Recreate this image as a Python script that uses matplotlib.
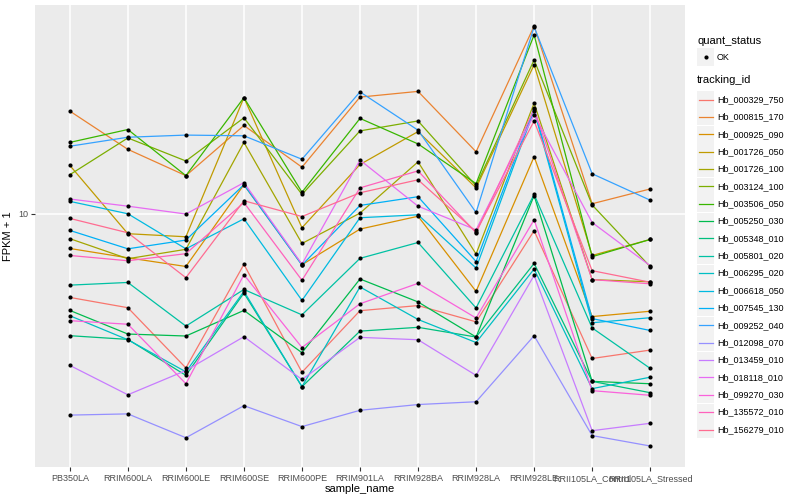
import matplotlib
matplotlib.use("Agg")
import matplotlib.pyplot as plt
from matplotlib.lines import Line2D
from matplotlib.patches import Rectangle
import numpy as np

plt.rcParams['font.family'] = ['Liberation Sans', 'DejaVu Sans']

samples = ["PB350LA", "RRIM600LA", "RRIM600LE", "RRIM600SE", "RRIM600PE", "RRIM901LA",
           "RRIM928BA", "RRIM928LA", "RRIM928LE", "RRII105LA_Control", "RRII105LA_Stressed"]

tracking_ids = ["Hb_000329_750", "Hb_000815_170", "Hb_000925_090", "Hb_001726_050",
                "Hb_001726_100", "Hb_003124_100", "Hb_003506_050", "Hb_005250_030",
                "Hb_005348_010", "Hb_005801_020", "Hb_006295_020", "Hb_006618_050",
                "Hb_007545_130", "Hb_009252_040", "Hb_012098_070", "Hb_013459_010",
                "Hb_018118_010", "Hb_099270_030", "Hb_135572_010", "Hb_156279_010"]

# ggplot default hue palette for 20 levels
colors = ["#F8766D", "#EA8331", "#D89000", "#C09B00", "#A3A500", "#7CAE00", "#39B600",
          "#00BB4E", "#00BF7D", "#00C1A3", "#00BFC4", "#00BAE0", "#00B0F6", "#35A2FF",
          "#9590FF", "#C77CFF", "#E76BF3", "#FA62DB", "#FF62BC", "#FF6C91"]

# FPKM values per gene, one value per sample
fpkm_000329_750 = [4.26, 3.86, 2.06, 5.78, 1.96, 3.75, 3.94, 3.36, 7.78, 2.29, 2.51]
fpkm_000815_170 = [21.0, 15.4, 12.4, 18.7, 13.3, 23.5, 24.6, 15.1, 41.3, 9.8, 11.1]
fpkm_000925_090 = [6.66, 6.13, 5.67, 11.5, 5.76, 7.89, 8.81, 4.51, 14.5, 3.54, 3.73]
fpkm_001726_050 = [13.5, 7.58, 7.38, 23.4, 7.98, 13.6, 17.8, 11.2, 30.4, 6.26, 7.21]
fpkm_001726_100 = [7.26, 6.08, 6.61, 16.3, 6.96, 9.05, 13.9, 6.34, 22.4, 5.03, 4.93]
fpkm_003124_100 = [12.5, 16.9, 14.0, 19.9, 10.6, 17.9, 19.4, 11.4, 31.6, 9.7, 5.66]
fpkm_003506_050 = [16.3, 18.1, 12.4, 23.4, 10.8, 19.8, 16.1, 11.6, 38.5, 6.19, 7.21]
fpkm_005250_030 = [3.76, 2.97, 2.91, 3.76, 2.44, 5.06, 4.08, 2.88, 10.5, 1.76, 1.71]
fpkm_005348_010 = [2.92, 2.81, 1.89, 4.44, 1.65, 3.06, 3.18, 2.88, 5.83, 1.76, 1.53]
fpkm_005801_020 = [4.78, 4.90, 3.22, 4.59, 3.60, 6.10, 7.02, 3.85, 10.6, 3.16, 2.05]
fpkm_006295_020 = [3.57, 2.80, 1.97, 4.51, 1.65, 4.70, 3.44, 2.72, 5.54, 1.61, 1.85]
fpkm_006618_050 = [10.0, 9.0, 6.64, 8.62, 4.14, 8.70, 8.92, 5.59, 21.1, 3.33, 3.50]
fpkm_007545_130 = [7.80, 6.64, 7.17, 11.5, 5.74, 9.66, 10.4, 5.93, 21.5, 3.47, 3.08]
fpkm_009252_040 = [15.8, 17.0, 17.3, 17.2, 14.2, 24.5, 18.0, 9.1, 41.0, 12.6, 10.1]
fpkm_012098_070 = [1.13, 1.15, 0.79, 1.29, 0.95, 1.21, 1.31, 1.36, 2.92, 0.82, 0.68]
fpkm_013459_010 = [2.12, 1.49, 2.00, 2.89, 1.80, 2.87, 2.80, 1.89, 5.23, 0.89, 1.00]
fpkm_018118_010 = [10.2, 9.6, 8.98, 11.7, 5.79, 14.1, 9.6, 7.84, 20.4, 8.35, 5.71]
fpkm_099270_030 = [3.40, 3.28, 1.71, 5.26, 2.58, 4.01, 4.86, 3.49, 8.55, 1.57, 1.48]
fpkm_135572_010 = [6.26, 5.97, 6.36, 9.9, 5.0, 11.2, 12.9, 7.64, 21.3, 5.03, 4.84]
fpkm_156279_010 = [8.65, 7.64, 5.12, 10.05, 8.79, 10.75, 11.98, 7.71, 19.4, 5.46, 4.91]

series = [fpkm_000329_750, fpkm_000815_170, fpkm_000925_090, fpkm_001726_050,
          fpkm_001726_100, fpkm_003124_100, fpkm_003506_050, fpkm_005250_030,
          fpkm_005348_010, fpkm_005801_020, fpkm_006295_020, fpkm_006618_050,
          fpkm_007545_130, fpkm_009252_040, fpkm_012098_070, fpkm_013459_010,
          fpkm_018118_010, fpkm_099270_030, fpkm_135572_010, fpkm_156279_010]

W, H = 800, 500
fig = plt.figure(figsize=(8, 5), dpi=100)
ax = fig.add_axes([35 / W, 1 - 467 / H, 650 / W, 462 / H])
ax.set_facecolor("#EBEBEB")

x = list(range(len(samples)))
for vals, col in zip(series, colors):
    y = [v + 1 for v in vals]
    ax.plot(x, y, color=col, lw=0.9, zorder=2)
for vals in series:
    y = [v + 1 for v in vals]
    ax.plot(x, y, 'o', color='black', ms=3, mec='none', zorder=3)

ax.set_yscale('log')
allv = [v + 1 for s in series for v in s]
lo, hi = np.log10(min(allv)), np.log10(max(allv))
pad = 0.05 * (hi - lo)
ax.set_ylim(10 ** (lo - pad), 10 ** (hi + pad))
ax.set_yticks([10])
ax.set_yticklabels(["10"])
ax.minorticks_off()
ax.set_xlim(-0.6, len(samples) - 0.4)
ax.set_xticks(x)
ax.set_xticklabels(samples)

ax.grid(True, color='white', lw=1.1, zorder=0)
ax.set_axisbelow(True)
for s in ax.spines.values():
    s.set_visible(False)
ax.tick_params(colors='#333333', length=3, width=0.8, labelcolor='#4D4D4D',
               labelsize=6.5, pad=2)
ax.set_xlabel("sample_name", fontsize=8, color='black', labelpad=1)
ax.set_ylabel("FPKM + 1", fontsize=8, color='black')
ax.yaxis.set_label_coords((13 - 35) / 650, 0.5)

# legends drawn by hand in pixel coordinates
def fx(px):
    return px / W

def fy(py):
    return 1 - py / H

fig.text(fx(697), fy(41), "quant_status", fontsize=8, va='center', ha='left')
fig.add_artist(Rectangle((fx(697), fy(57 + 8.5)), 17 / W, 17 / H, transform=fig.transFigure,
                         facecolor='#F2F2F2', edgecolor='none'))
fig.add_artist(Line2D([fx(705.5)], [fy(57)], marker='o', ms=3, color='black', mec='none',
                      transform=fig.transFigure))
fig.text(fx(717), fy(57), "OK", fontsize=6.5, va='center', ha='left')

fig.text(fx(697), fy(80), "tracking_id", fontsize=8, va='center', ha='left')
for i, (name, col) in enumerate(zip(tracking_ids, colors)):
    yc = 99.5 + i * 17.37
    fig.add_artist(Rectangle((fx(697), fy(yc + 8.5)), 17 / W, 17 / H, transform=fig.transFigure,
                             facecolor='#F2F2F2', edgecolor='none'))
    fig.add_artist(Line2D([fx(698.5), fx(712.5)], [fy(yc), fy(yc)], color=col, lw=0.9,
                          transform=fig.transFigure))
    fig.text(fx(717), fy(yc), name, fontsize=6.5, va='center', ha='left')

fig.savefig("out.png", dpi=100, facecolor='white')
